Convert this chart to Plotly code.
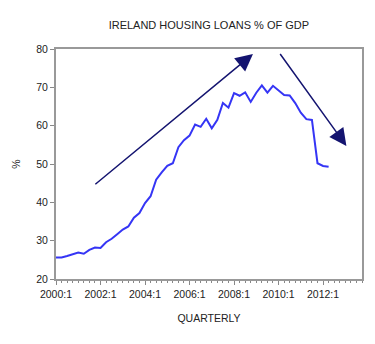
import plotly.graph_objects as go

# Quarterly housing loans as % of GDP, 2000:1 - 2012:2
quarters = [f"{2000 + i // 4}:{i % 4 + 1}" for i in range(50)]
loans_pct_gdp = [
    25.6, 25.6, 26.0, 26.5, 26.9, 26.6, 27.6, 28.2, 28.1, 29.6,
    30.5, 31.7, 32.9, 33.7, 36.0, 37.2, 39.8, 41.6, 45.9, 47.8,
    49.5, 50.2, 54.4, 56.2, 57.4, 60.3, 59.7, 61.8, 59.3, 61.5,
    65.9, 64.7, 68.5, 67.8, 68.7, 66.2, 68.6, 70.5, 68.6, 70.4,
    69.3, 68.0, 67.9, 65.9, 63.4, 61.7, 61.5, 50.2, 49.5, 49.3,
]

# Trend arrows: (start index, start value, end index, end value)
arrow_up = (6.8, 44.4, 35.4, 78.7)
arrow_down = (40.1, 79.1, 52.2, 54.7)

tick_years = list(range(2000, 2013, 2))
tick_labels = [f"{y}:1" for y in tick_years]
tick_positions = [(y - 2000) * 4 for y in tick_years]

x_index = list(range(len(loans_pct_gdp)))

fig = go.Figure()
fig.add_trace(go.Scatter(
    x=x_index, y=loans_pct_gdp, mode="lines",
    line=dict(color="#3535f5", width=2),
    hoverinfo="skip", showlegend=False,
))

for x0, y0, x1, y1 in (arrow_up, arrow_down):
    fig.add_annotation(
        x=x1, y=y1, ax=x0, ay=y0,
        xref="x", yref="y", axref="x", ayref="y",
        showarrow=True, text="",
        arrowhead=2, arrowsize=2.3, arrowwidth=1.5,
        arrowcolor="#141470",
    )

font = dict(family="Liberation Sans, Arial, sans-serif", color="#222222")

fig.update_layout(
    width=375, height=344,
    margin=dict(l=56, r=13, t=49, b=65),
    paper_bgcolor="white", plot_bgcolor="white",
    font=dict(size=10.5, **font),
    title=dict(
        text="IRELAND HOUSING LOANS % OF GDP",
        x=0.557, xanchor="center", y=0.928, yanchor="middle",
        font=dict(size=11, **font),
    ),
)

fig.update_xaxes(
    range=[0, 55],
    tickmode="array", tickvals=tick_positions, ticktext=tick_labels,
    ticks="outside", ticklen=4, tickcolor="#888888", tickwidth=1,
    minor=dict(dtick=1, tick0=0, ticks="outside", ticklen=2,
               tickcolor="#888888", tickwidth=1),
    showgrid=False, zeroline=False,
    showline=True, linecolor="#999999", linewidth=2, mirror=True,
    title=dict(text="QUARTERLY", standoff=16, font=dict(size=10.5, **font)),
)

fig.update_yaxes(
    range=[20, 80], dtick=10,
    ticks="outside", ticklen=4, tickcolor="#888888", tickwidth=1,
    showgrid=False, zeroline=False,
    showline=True, linecolor="#999999", linewidth=2, mirror=True,
    title=dict(text="%", standoff=14, font=dict(size=10.5, **font)),
)

fig.write_html("out.html")
